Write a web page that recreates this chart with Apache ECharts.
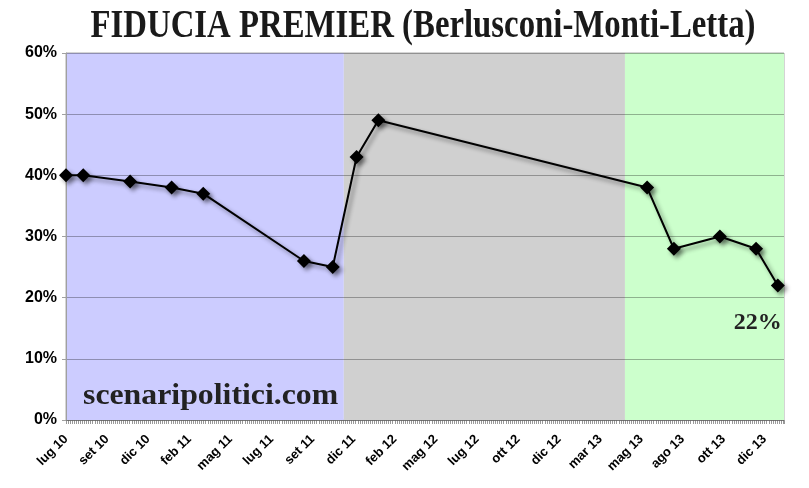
<!DOCTYPE html>
<html>
<head>
<meta charset="utf-8">
<script src="https://cdn.jsdelivr.net/npm/echarts@6/dist/echarts.min.js"></script>
<style>html,body{margin:0;padding:0;background:#fff;}#c{width:809px;height:488px;}</style>
</head>
<body>
<div id="c"></div>
<script>
// Tick labels of the category-like time axis (one every equal step)
const xLabels = ['lug 10','set 10','dic 10','feb 11','mag 11','lug 11','set 11','dic 11','feb 12','mag 12','lug 12','ott 12','dic 12','mar 13','mag 13','ago 13','ott 13','dic 13'];
// Position of each poll along the axis (in label steps)
const pollPos = [0, 0.42, 1.56, 2.57, 3.34, 5.79, 6.49, 7.07, 7.60, 14.14, 14.79, 15.91, 16.79, 17.32];
// Trust in the premier (%)
const fiducia = [40, 40, 39, 38, 37, 26, 25, 43, 49, 38, 28, 30, 28, 22];
// Government periods (axis positions)
const periodStart = [0, 6.76, 13.60];
const periodEnd = [6.76, 13.60, 17.47];
const periodColors = ['#ccccff', '#d0d0d0', '#ccffcc'];
const axisMax = 17.47;

const chart = echarts.init(document.getElementById('c'));

const lineData = pollPos.map((p, i) => {
  const item = { value: [p, fiducia[i]] };
  if (i === pollPos.length - 1) {
    item.label = {
      show: true, position: 'bottom', offset: [-20, 13],
      formatter: (pr) => pr.value[1] + '%',
      fontFamily: 'Liberation Serif', fontWeight: 'bold', fontSize: 24, color: '#222'
    };
  }
  return item;
});

chart.setOption({
  animation: false,
  grid: { left: 66, right: 25, top: 53, bottom: 68, show: true, borderColor: '#aaa', borderWidth: 1, backgroundColor: 'transparent' },
  graphic: [
    { type: 'text', z: 10, scaleX: 0.80, x: 423, y: 26,
      style: { text: 'FIDUCIA PREMIER (Berlusconi-Monti-Letta)', x: 0, y: 0,
        font: 'bold 41px "Liberation Serif"', fill: '#1a1a1a',
        align: 'center', verticalAlign: 'middle', textAlign: 'center', textVerticalAlign: 'middle' } },
    { type: 'text', z: 10, x: 83, y: 396, scaleX: 1.06,
      style: { text: 'scenaripolitici.com', x: 0, y: 0,
        font: 'bold 30px "Liberation Serif"', fill: '#222',
        align: 'left', verticalAlign: 'middle', textAlign: 'left', textVerticalAlign: 'middle' } }
  ],
  xAxis: {
    type: 'value', min: 0, max: axisMax, interval: 1,
    axisLine: { show: true, lineStyle: { color: '#aaa' } },
    axisTick: { show: true, length: 4, lineStyle: { color: '#999' } },
    minorTick: { show: true, splitNumber: 20, length: 4, lineStyle: { color: '#999' } },
    splitLine: { show: false },
    axisLabel: {
      rotate: 45, margin: 17, showMaxLabel: false,
      fontFamily: 'Liberation Sans', fontWeight: 'bold', fontSize: 13, color: '#000',
      formatter: (v) => { const k = Math.round(v); return Math.abs(v - k) < 1e-6 && xLabels[k] ? xLabels[k] : ''; }
    }
  },
  yAxis: {
    type: 'value', min: 0, max: 60, interval: 10, z: 3,
    axisLine: { show: true, lineStyle: { color: '#a0a0a0' } },
    axisTick: { show: true, length: 4, lineStyle: { color: '#a0a0a0' } },
    splitLine: { show: true, lineStyle: { color: 'rgba(0,0,0,0.3)', width: 1 } },
    axisLabel: { formatter: '{value}%', margin: 9, fontFamily: 'Liberation Sans', fontWeight: 'bold', fontSize: 16, color: '#000' }
  },
  series: [
    {
      type: 'line', z: 1, data: [], silent: true,
      markArea: {
        silent: true,
        data: periodStart.map((s, i) => [
          { xAxis: s, yAxis: 0, itemStyle: { color: periodColors[i], opacity: 1 } },
          { xAxis: periodEnd[i], yAxis: 60 }
        ])
      }
    },
    {
      type: 'line', z: 5, data: lineData,
      symbol: 'diamond', symbolSize: 14,
      lineStyle: { color: '#000', width: 2, shadowColor: 'rgba(0,0,0,0.45)', shadowBlur: 4, shadowOffsetX: 3, shadowOffsetY: 3 },
      itemStyle: { color: '#000', shadowColor: 'rgba(0,0,0,0.45)', shadowBlur: 4, shadowOffsetX: 3, shadowOffsetY: 3 }
    }
  ]
});
</script>
</body>
</html>
